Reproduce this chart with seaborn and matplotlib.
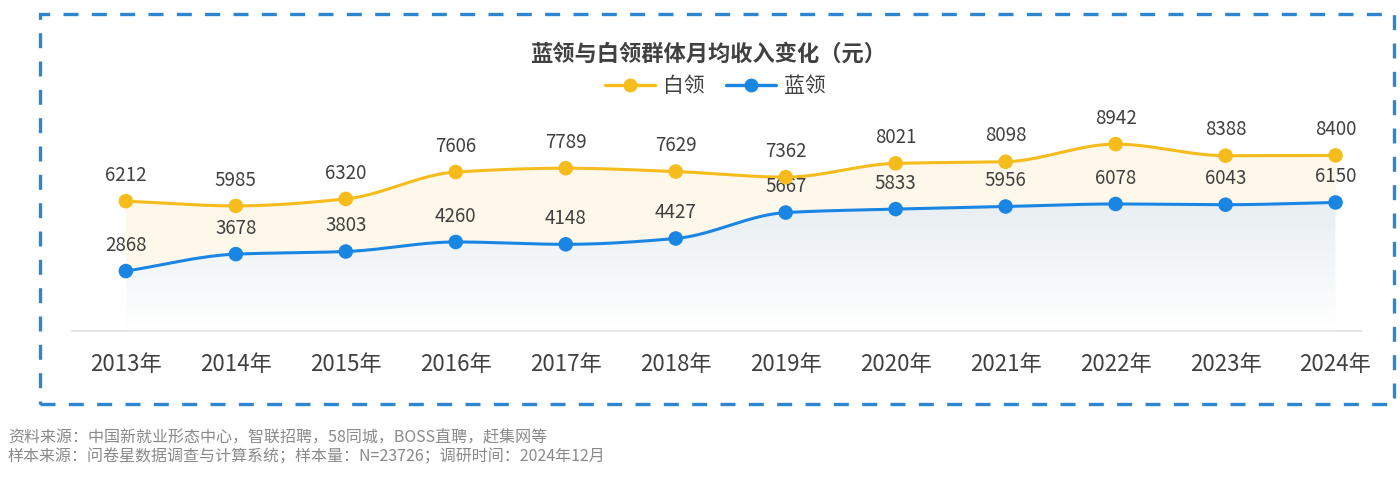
import numpy as np
import pandas as pd
import matplotlib
matplotlib.use("Agg")
import matplotlib.pyplot as plt
import seaborn as sns
from matplotlib.lines import Line2D
from matplotlib.patches import Rectangle, Polygon

years = ['2013年', '2014年', '2015年', '2016年', '2017年', '2018年',
         '2019年', '2020年', '2021年', '2022年', '2023年', '2024年']
white_collar = [6212, 5985, 6320, 7606, 7789, 7629, 7362, 8021, 8098, 8942, 8388, 8400]
blue_collar = [2868, 3678, 3803, 4260, 4148, 4427, 5667, 5833, 5956, 6078, 6043, 6150]

YELLOW = '#F5BC1C'
BLUE = '#1A86E4'
TEXT = '#404040'

sns.set_theme(style='white')
plt.rcParams['font.family'] = ['Noto Sans CJK SC', 'DejaVu Sans']


def smooth(x, y, n=30):
    # monotone cubic (Fritsch-Carlson) just for drawing a curved line
    x = np.asarray(x, float)
    y = np.asarray(y, float)
    h = np.diff(x)
    d = np.diff(y) / h
    m = np.zeros_like(y)
    m[0], m[-1] = d[0], d[-1]
    for i in range(1, len(y) - 1):
        if d[i - 1] * d[i] <= 0:
            m[i] = 0
        else:
            m[i] = 2 / (1 / d[i - 1] + 1 / d[i])
    xs, ys = [], []
    for i in range(len(x) - 1):
        t = np.linspace(0, 1, n, endpoint=False)
        h00 = 2 * t**3 - 3 * t**2 + 1
        h10 = t**3 - 2 * t**2 + t
        h01 = -2 * t**3 + 3 * t**2
        h11 = t**3 - t**2
        xs.append(x[i] + t * h[i])
        ys.append(h00 * y[i] + h10 * h[i] * m[i] + h01 * y[i + 1] + h11 * h[i] * m[i + 1])
    xs.append([x[-1]])
    ys.append([y[-1]])
    return np.concatenate(xs), np.concatenate(ys)


pos = np.arange(len(years))
xw, yw = smooth(pos, white_collar)
xb, yb = smooth(pos, blue_collar)

fig = plt.figure(figsize=(14, 4.78), dpi=100)
ax = fig.add_axes([0.0514, 0.3075, 0.9214, 0.4373])
ax.set_xlim(-0.49, 11.24)
ax.set_ylim(0, 10000)

# fills
ax.fill_between(xw, yb, yw, color='#FEF6E4', alpha=0.75, lw=0, zorder=1)
grad = np.linspace(0, 1, 256).reshape(-1, 1)
cmap = matplotlib.colors.LinearSegmentedColormap.from_list('g', ['#FFFFFF', '#E7EEF1'])
img = ax.imshow(grad, extent=[0, 11, 0, 6300], origin='lower', aspect='auto',
                cmap=cmap, zorder=1)
poly = Polygon(np.column_stack([np.r_[xb, xb[-1], xb[0]], np.r_[yb, 0, 0]]),
               closed=True, transform=ax.transData, facecolor='none', edgecolor='none')
ax.add_patch(poly)
img.set_clip_path(poly)

df_w = pd.DataFrame({'x': xw, 'y': yw})
df_b = pd.DataFrame({'x': xb, 'y': yb})
sns.lineplot(data=df_w, x='x', y='y', color=YELLOW, lw=2.2, ax=ax, zorder=3, sort=False)
sns.lineplot(data=df_b, x='x', y='y', color=BLUE, lw=2.2, ax=ax, zorder=3, sort=False)
sns.scatterplot(x=pos, y=white_collar, color=YELLOW, s=110, edgecolor='none', ax=ax, zorder=4)
sns.scatterplot(x=pos, y=blue_collar, color=BLUE, s=110, edgecolor='none', ax=ax, zorder=4)

for i in pos:
    ax.annotate(str(white_collar[i]), (i, white_collar[i]), xytext=(0, 11),
                textcoords='offset points', ha='center', va='bottom',
                fontsize=13.5, color=TEXT)
    ax.annotate(str(blue_collar[i]), (i, blue_collar[i]), xytext=(0, 11),
                textcoords='offset points', ha='center', va='bottom',
                fontsize=13.5, color=TEXT)

ax.set_xticks(pos)
ax.set_xticklabels(years, fontsize=16, color=TEXT)
ax.tick_params(axis='x', length=0, pad=16)
ax.set_yticks([])
ax.set_xlabel('')
ax.set_ylabel('')
for s in ['top', 'left', 'right']:
    ax.spines[s].set_visible(False)
ax.spines['bottom'].set_color('#E2E2E2')
ax.spines['bottom'].set_linewidth(1.2)
ax.patch.set_alpha(0)

fig.text(0.506, 1 - 54 / 478, '蓝领与白领群体月均收入变化（元）', ha='center', va='center',
         fontsize=16, fontweight='bold', color=TEXT)

handles = [
    Line2D([0], [0], color=YELLOW, lw=2.4, marker='o', markersize=9),
    Line2D([0], [0], color=BLUE, lw=2.4, marker='o', markersize=9),
]
fig.legend(handles, ['白领', '蓝领'], loc='center', bbox_to_anchor=(0.511, 1 - 86 / 478),
           ncol=2, frameon=False, fontsize=15, handlelength=2.4, columnspacing=1.0,
           handletextpad=0.4, labelcolor=TEXT)

frame = Rectangle((40 / 1400, 1 - 404 / 478), 1354 / 1400, 390 / 478,
                  transform=fig.transFigure, fill=False, edgecolor='#2E86D0',
                  lw=2.4, linestyle=(0, (4.5, 4)))
fig.patches.append(frame)

fig.text(8 / 1400, 1 - 438 / 478, '资料来源：中国新就业形态中心，智联招聘，58同城，BOSS直聘，赶集网等',
         ha='left', va='center', fontsize=11.5, color='#8A8A8A', style='italic')
fig.text(8 / 1400, 1 - 457 / 478, '样本来源：问卷星数据调查与计算系统；样本量：N=23726；调研时间：2024年12月',
         ha='left', va='center', fontsize=11.5, color='#8A8A8A', style='italic')

fig.savefig('out.png', dpi=100)
